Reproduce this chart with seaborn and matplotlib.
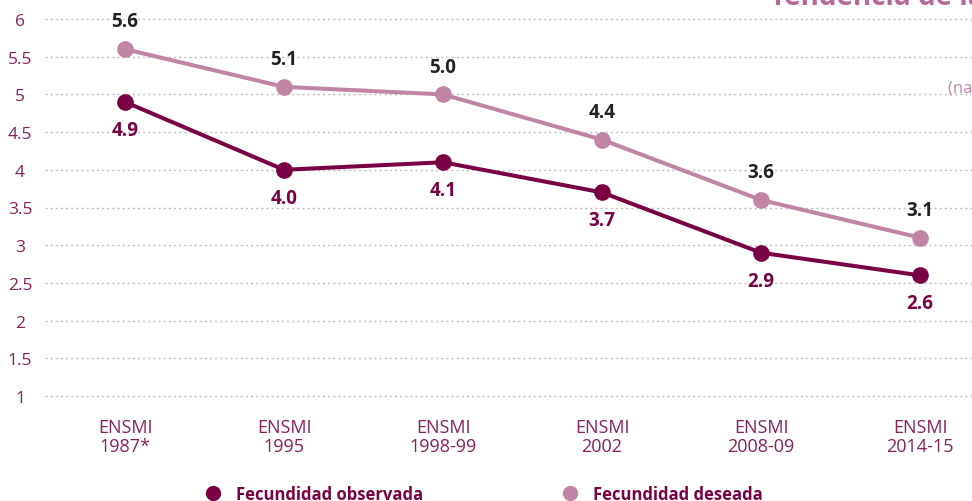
import matplotlib
matplotlib.use("Agg")
import matplotlib.pyplot as plt
from matplotlib.lines import Line2D
import seaborn as sns
import pandas as pd

encuestas = ["ENSMI\n1987*", "ENSMI\n1995", "ENSMI\n1998-99", "ENSMI\n2002", "ENSMI\n2008-09", "ENSMI\n2014-15"]
observada = [4.9, 4.0, 4.1, 3.7, 2.9, 2.6]
deseada = [5.6, 5.1, 5.0, 4.4, 3.6, 3.1]
yticks = [1, 1.5, 2, 2.5, 3, 3.5, 4, 4.5, 5, 5.5, 6]
series = ["Fecundidad observada", "Fecundidad deseada"]

c_obs = "#7a0044"
c_des = "#c084a4"
c_tick = "#8a1f5c"

df = pd.DataFrame({
    "x": list(range(len(encuestas))) * 2,
    "valor": observada + deseada,
    "serie": [series[0]] * len(encuestas) + [series[1]] * len(encuestas),
})

sns.set_theme(style="white")
plt.rcParams["font.family"] = ["Open Sans", "DejaVu Sans"]

W, H = 972, 502
fig = plt.figure(figsize=(W / 100, H / 100), dpi=100)
ax = fig.add_axes([45 / W, 1 - 397 / H, 1 - 45 / W, 377 / H])

for v in yticks:
    ax.axhline(v, color="#bdbdbd", lw=1.0, ls=(0, (1.5, 2.2)), zorder=0)

sns.lineplot(data=df, x="x", y="valor", hue="serie", palette=[c_obs, c_des],
             hue_order=series, marker="o", markersize=12, markeredgewidth=0,
             linewidth=2.9, ax=ax, legend=False, zorder=3)
for l in ax.lines:
    l.set_clip_on(False)

ax.set_xlim(-80 / 159, (W - 125) / 159)
ax.set_ylim(1, 6)
ax.set_xlabel("")
ax.set_ylabel("")
for s in ax.spines.values():
    s.set_visible(False)

ax.set_yticks(yticks)
ax.set_yticklabels([f"{v:g}" for v in yticks], color=c_tick, fontsize=12.5)
for t in ax.get_yticklabels():
    t.set_ha("center")
ax.tick_params(axis="y", length=0, pad=18)

ax.set_xticks(range(len(encuestas)))
ax.set_xticklabels(encuestas, color=c_tick, fontsize=13, linespacing=1.05)
ax.tick_params(axis="x", length=0, pad=16)

for i, (o, d) in enumerate(zip(observada, deseada)):
    ax.annotate(f"{d:.1f}", (i, d), xytext=(0, 20), textcoords="offset points",
                ha="center", va="center", fontsize=13.5, fontweight="bold", color="#222222")
    ax.annotate(f"{o:.1f}", (i, o), xytext=(0, -20), textcoords="offset points",
                ha="center", va="center", fontsize=13.5, fontweight="bold", color=c_obs)

fig.text(770 / W, 1 - 5 / H, "Tendencia de la fecundidad", fontsize=20, fontweight="bold",
         color="#b8679a", va="baseline", ha="left")
fig.text(948 / W, 1 - 93 / H, "(nacimientos por mujer)", fontsize=12, color="#c088a8",
         va="baseline", ha="left")

handles = [Line2D([], [], marker="o", ls="", color=c, markersize=11, markeredgewidth=0) for c in (c_obs, c_des)]
leg = fig.legend(handles, series, ncol=2, loc="center left", bbox_to_anchor=(188 / W, 1 - 495 / H),
                 frameon=False, handletextpad=0.8, columnspacing=8.2, handlelength=1.2,
                 prop={"weight": "bold", "size": 12})
for t in leg.get_texts():
    t.set_color(c_obs)

fig.savefig("out.png", dpi=100)
